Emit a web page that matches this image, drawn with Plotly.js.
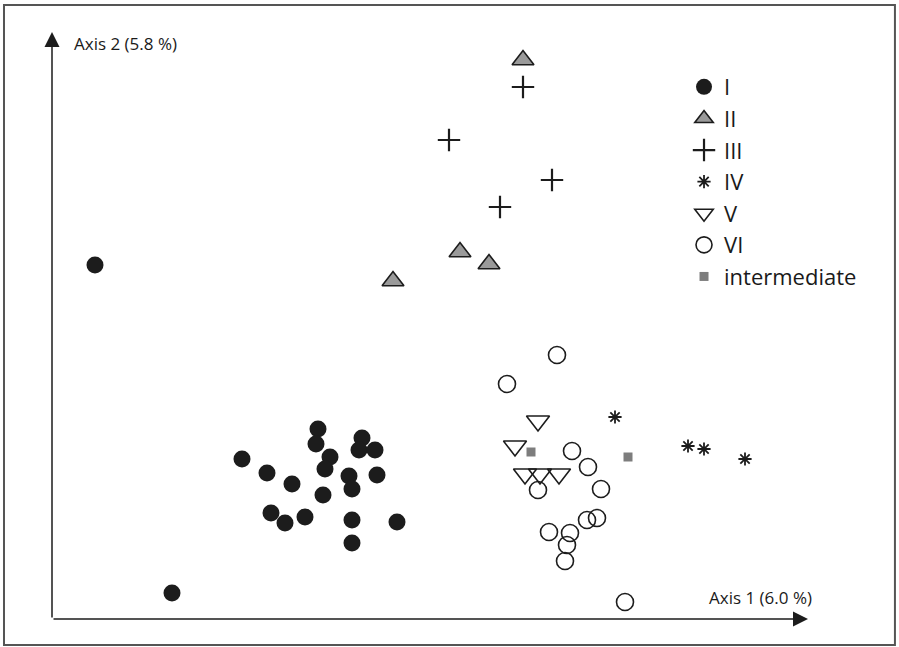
<!DOCTYPE html>
<html>
<head>
<meta charset="utf-8">
<script src="https://cdn.plot.ly/plotly-3.0.1.min.js"></script>
<style>html,body{margin:0;padding:0;background:#fff;}#chart{width:899px;height:647px;}</style>
</head>
<body>
<div id="chart"></div>
<script>
// Ordination scores (arbitrary units)
const groupNames = ["I", "II", "III", "IV", "V", "VI", "intermediate"];

const gI_x = [0.43, 1.20, 1.90, 2.15, 2.40, 2.66, 2.64, 2.78, 2.73, 3.10, 3.07, 3.23, 2.97, 3.00, 3.25, 2.71, 2.19, 2.33, 2.53, 3.00, 3.00, 3.45];
const gI_y = [3.54, 0.26, 1.60, 1.46, 1.35, 1.90, 1.75, 1.62, 1.50, 1.81, 1.69, 1.69, 1.43, 1.30, 1.44, 1.24, 1.06, 0.96, 1.02, 0.99, 0.76, 0.97];

const gII_x = [4.71, 4.08, 4.37, 3.41];
const gII_y = [5.59, 3.67, 3.55, 3.38];

const gIII_x = [4.71, 3.97, 5.00, 4.48];
const gIII_y = [5.32, 4.79, 4.39, 4.12];

const gIV_x = [5.63, 6.36, 6.52, 6.93];
const gIV_y = [2.02, 1.73, 1.70, 1.60];

const gV_x = [4.86, 4.63, 4.73, 4.88, 5.07];
const gV_y = [1.98, 1.73, 1.45, 1.45, 1.45];

const gVI_x = [5.05, 4.55, 5.20, 5.36, 4.86, 5.49, 5.35, 5.45, 4.97, 5.18, 5.15, 5.13, 5.73];
const gVI_y = [2.64, 2.35, 1.68, 1.52, 1.29, 1.30, 0.99, 1.01, 0.87, 0.86, 0.74, 0.58, 0.17];

const gInt_x = [4.79, 5.76];
const gInt_y = [1.67, 1.62];

const axisXLabel = "Axis 1 (6.0 %)";
const axisYLabel = "Axis 2 (5.8 %)";
const xMax = 7.56, yMax = 5.87;

const ink = "#1c1c1c";
const traces = [
  {x: gI_x, y: gI_y, name: groupNames[0], mode: "markers", type: "scatter",
   marker: {symbol: "circle", size: 17, color: ink, line: {width: 0}}},
  {x: gII_x, y: gII_y, name: groupNames[1], mode: "markers", type: "scatter",
   marker: {symbol: "triangle-up", size: 19, color: "#9a9a9a", line: {width: 1.6, color: ink}}},
  {x: gIII_x, y: gIII_y, name: groupNames[2], mode: "markers", type: "scatter",
   marker: {symbol: "cross-thin", size: 16, color: ink, line: {width: 2.2, color: ink}}},
  {x: gIV_x, y: gIV_y, name: groupNames[3], mode: "markers", type: "scatter",
   marker: {symbol: "asterisk", size: 11, color: ink, line: {width: 1.8, color: ink}}},
  {x: gV_x, y: gV_y, name: groupNames[4], mode: "markers", type: "scatter",
   marker: {symbol: "triangle-down-open", size: 20, color: ink, line: {width: 1.6, color: ink}}},
  {x: gVI_x, y: gVI_y, name: groupNames[5], mode: "markers", type: "scatter",
   marker: {symbol: "circle-open", size: 17, color: ink, line: {width: 1.6, color: ink}}},
  {x: gInt_x, y: gInt_y, name: groupNames[6], mode: "markers", type: "scatter",
   marker: {symbol: "square", size: 9, color: "#7d7d7d", line: {width: 0}}}
];

const layout = {
  width: 899, height: 647,
  margin: {l: 52, r: 91, t: 32, b: 28, pad: 0},
  paper_bgcolor: "#fff", plot_bgcolor: "#fff",
  font: {family: "Open Sans, sans-serif", color: "#1a1a1a"},
  showlegend: true,
  legend: {x: 0.836, y: 0.942, xanchor: "left", yanchor: "top",
           font: {size: 22, family: "Open Sans, sans-serif", color: "#1a1a1a"},
           bgcolor: "rgba(0,0,0,0)", borderwidth: 0},
  xaxis: {range: [0, xMax], showgrid: false, zeroline: false, showticklabels: false,
          ticks: "", showline: false, fixedrange: true},
  yaxis: {range: [0, yMax], showgrid: false, zeroline: false, showticklabels: false,
          ticks: "", showline: false, fixedrange: true},
  shapes: [
    {type: "rect", xref: "paper", yref: "paper", x0: -0.0635, x1: 1.115, y0: -0.0443, y1: 1.046,
     line: {color: "#555555", width: 2}, fillcolor: "rgba(0,0,0,0)", layer: "below"}
  ],
  annotations: [
    {x: xMax, y: 0, ax: 0, ay: 0, xref: "x", yref: "y", axref: "x", ayref: "y",
     text: "", showarrow: true, arrowhead: 2, arrowsize: 2, arrowwidth: 1.5, arrowcolor: ink, standoff: 0},
    {x: 0, y: yMax, ax: 0, ay: 0, xref: "x", yref: "y", axref: "x", ayref: "y",
     text: "", showarrow: true, arrowhead: 2, arrowsize: 2, arrowwidth: 1.5, arrowcolor: ink, standoff: 0},
    {x: (72 - 52) / 756, y: (619 - 43) / 587, xref: "paper", yref: "paper", xanchor: "left", yanchor: "middle",
     text: axisYLabel, showarrow: false, font: {size: 17, color: "#1a1a1a", family: "Open Sans, sans-serif"}},
    {x: (814 - 52) / 756, y: (619 - 597) / 587, xref: "paper", yref: "paper", xanchor: "right", yanchor: "middle",
     text: axisXLabel, showarrow: false, font: {size: 17, color: "#1a1a1a", family: "Open Sans, sans-serif"}}
  ]
};

Plotly.newPlot("chart", traces, layout, {displayModeBar: false, staticPlot: true});
</script>
</body>
</html>
